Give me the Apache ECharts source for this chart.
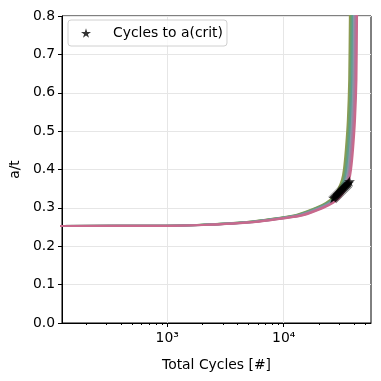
<!DOCTYPE html>
<html><head><meta charset="utf-8">
<script src="https://cdn.jsdelivr.net/npm/echarts@6/dist/echarts.min.js"></script>
<style>html,body{margin:0;padding:0;background:#fff}#c{width:381px;height:381px}</style>
</head><body><div id="c"></div>
<script>
// a/t levels shared by all crack-growth curves
const aOverT = [0.2528, 0.2532, 0.2554, 0.263, 0.274, 0.281, 0.300, 0.313, 0.328, 0.347, 0.373, 0.399, 0.451, 0.529, 0.633, 0.80, 0.85];
// total cycles for each curve at those a/t levels
const cyclesA = [93, 933, 1787, 4777, 9330, 12780, 18940, 23050, 26500, 29200, 31630, 32840, 34150, 35550, 36500, 37000, 37200];
const cyclesB = [96, 959, 1836, 4910, 9590, 13140, 19470, 23690, 27240, 30020, 32510, 33760, 35100, 36540, 37500, 38000, 38200];
const cyclesC = [99, 986, 1888, 5048, 9860, 13510, 20020, 24350, 28000, 30860, 33430, 34710, 36090, 37570, 38600, 39100, 39300];
const cyclesD = [101, 1014, 1942, 5192, 10140, 13890, 20580, 25050, 28800, 31740, 34370, 35690, 37110, 38630, 39700, 40200, 40400];
const cyclesE = [104, 1042, 1995, 5335, 10420, 14280, 21150, 25740, 29590, 32610, 35320, 36680, 38140, 39700, 40800, 41300, 41500];
const cyclesF = [107, 1072, 2053, 5489, 10720, 14690, 21760, 26480, 30440, 33550, 36340, 37730, 39240, 40840, 42000, 42500, 42700];
const curveCycles = [cyclesA, cyclesB, cyclesC, cyclesD, cyclesE, cyclesF];
const curveColors = ['#8c9b52', '#6c9f6c', '#5e9c94', '#8a98a6', '#a97a9e', '#c8698c'];
// cycles to critical crack size
const critCycles = [26760, 27290, 27830, 28380, 28940, 29520, 30100, 30700, 31300, 31940, 32570, 33220, 33880, 34550, 35240, 35940, 36650];
const critAOverT = [0.3257, 0.3283, 0.3309, 0.3336, 0.3362, 0.3388, 0.3414, 0.3440, 0.3466, 0.3492, 0.3518, 0.3544, 0.3570, 0.3596, 0.3622, 0.3648, 0.3687];
const yTicks = [0, 0.1, 0.2, 0.3, 0.4, 0.5, 0.6, 0.7, 0.8];
const xMajor = [1000, 10000];
const xMinor = [200,300,400,500,600,700,800,900,2000,3000,4000,5000,6000,7000,8000,9000,20000,30000,40000,50000];
const xLabels = {1000: '10³', 10000: '10⁴'};

const star = 'path://M50,0 L61,35 L98,35 L68,57 L79,91 L50,70 L21,91 L32,57 L2,35 L39,35 Z';
const font = 'DejaVu Sans';
const fs = 13.9;
const chart = echarts.init(document.getElementById('c'));
const xMin = 125, xMax = 56080;

const series = curveCycles.map((cx, i) => ({
  type: 'line', xAxisIndex: 0, yAxisIndex: 0,
  data: cx.map((v, j) => [v, aOverT[j]]),
  showSymbol: false, symbol: 'none', smooth: 0.25,
  lineStyle: {color: curveColors[i], width: 2.2},
  itemStyle: {color: curveColors[i]},
  silent: true, z: 2, clip: true
}));
series.push({
  type: 'scatter', name: 'Cycles to a(crit)', xAxisIndex: 0, yAxisIndex: 0,
  data: critCycles.map((v, j) => [v, critAOverT[j]]),
  symbol: star, symbolSize: 11, symbolKeepAspect: true,
  itemStyle: {color: '#000'}, z: 5
});

chart.setOption({
  animation: false,
  backgroundColor: '#fff',
  grid: {left: 61, right: 10, top: 16, bottom: 58, show: true, borderColor: '#000', borderWidth: 1, containLabel: false},
  legend: {
    data: [{name: 'Cycles to a(crit)', icon: star}],
    left: 68, top: 20, orient: 'vertical',
    padding: [6, 4, 6, 13], itemWidth: 10, itemHeight: 10, itemGap: 0,
    formatter: n => '{t|' + n + '}',
    backgroundColor: 'rgba(255,255,255,0.8)', borderColor: '#d0d0d0', borderWidth: 1, borderRadius: 3,
    textStyle: {fontFamily: font, fontSize: fs, color: '#000', rich: {t: {fontFamily: font, fontSize: fs, color: '#000', padding: [0, 0, 0, 17]}}}
  },
  xAxis: [{
    type: 'log', logBase: 10, min: xMin, max: xMax,
    name: 'Total Cycles [#]', nameLocation: 'middle', nameGap: 35,
    nameTextStyle: {fontFamily: font, fontSize: fs, color: '#000'},
    axisLine: {show: true, lineStyle: {color: '#000'}},
    axisTick: {show: true, customValues: xMajor, length: 4, lineStyle: {color: '#000'}},
    axisLabel: {show: true, customValues: xMajor, formatter: v => xLabels[Math.round(v)] || '', fontFamily: font, fontSize: fs, color: '#000', margin: 8},
    splitLine: {show: true, lineStyle: {color: '#e6e6e6', width: 1}},
    minorTick: {show: false}
  }, {
    type: 'log', logBase: 10, min: xMin, max: xMax, position: 'bottom',
    axisLine: {show: false},
    axisTick: {show: true, customValues: xMinor, length: 2, lineStyle: {color: '#000'}},
    axisLabel: {show: false},
    splitLine: {show: false}
  }],
  yAxis: {
    type: 'value', min: 0, max: 0.8, interval: 0.1,
    name: 'a/t', nameLocation: 'middle', nameGap: 38, nameRotate: 90,
    nameTextStyle: {fontFamily: font, fontSize: fs, color: '#000'},
    axisLine: {show: true, lineStyle: {color: '#000'}},
    axisTick: {show: true, length: 4, lineStyle: {color: '#000'}},
    axisLabel: {formatter: v => v.toFixed(1), fontFamily: font, fontSize: fs, color: '#000', margin: 7},
    splitLine: {show: true, lineStyle: {color: '#e6e6e6', width: 1}}
  },
  series: series
});
</script></body></html>
